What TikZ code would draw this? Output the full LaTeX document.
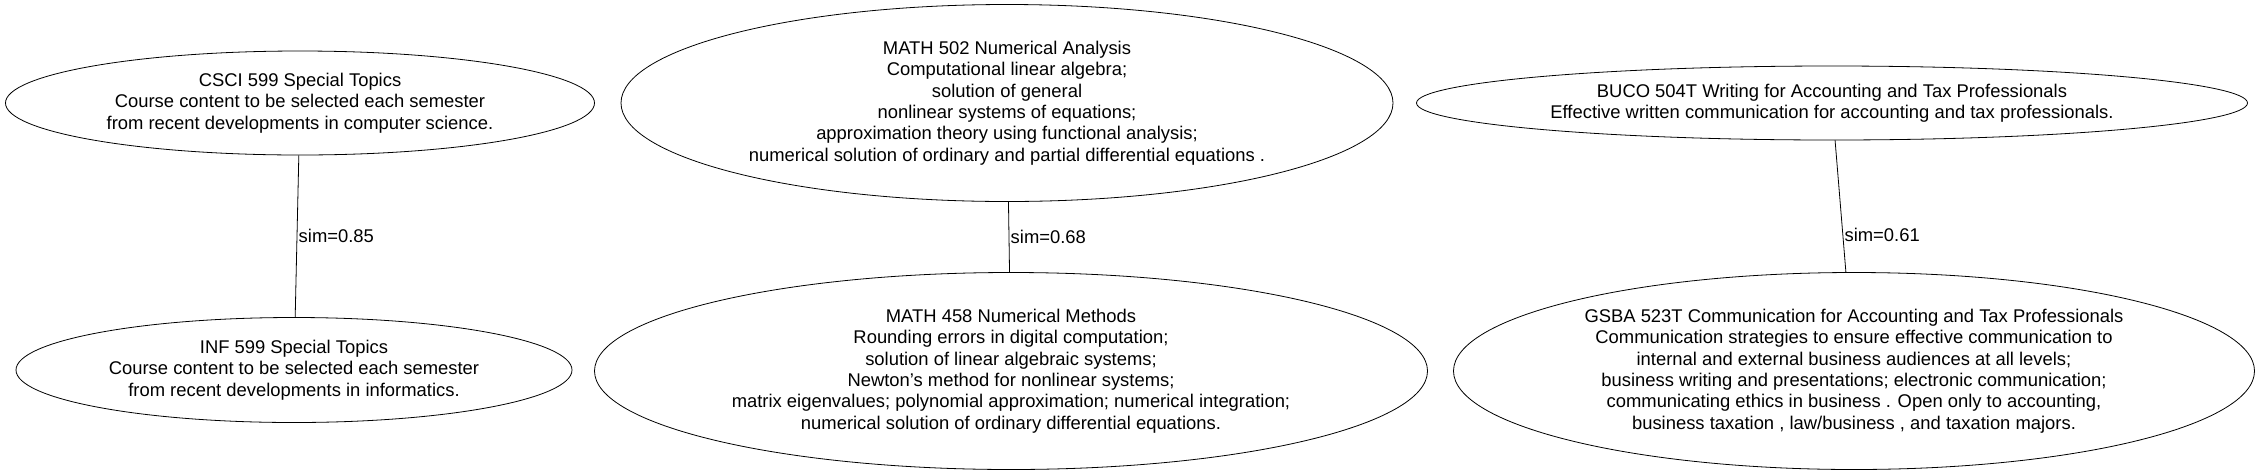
\documentclass[tikz,border=0pt]{standalone}
\usepackage{fontspec}
\setmainfont{Liberation Sans}
\usepackage{tikz}
\usetikzlibrary{shapes.geometric}

\begin{document}
\begin{tikzpicture}[x=0.75pt, y=-0.75pt,
    course/.style={draw, ellipse, line width=0.6pt, inner sep=0pt, align=center, font=\fontsize{13.8}{16}\selectfont},
    simlabel/.style={anchor=west, inner sep=1pt, font=\fontsize{13.8}{16}\selectfont}]
    \useasboundingbox (0,0) rectangle (2260,472);

    % Draw the course nodes of the first pair
    \node[course, minimum width=441.75pt, minimum height=78pt] (csci) at (300,103)
        {CSCI 599 Special Topics\\Course content to be selected each semester\\from recent developments in computer science.};
    \node[course, minimum width=417pt, minimum height=78.75pt] (inf) at (294,370)
        {INF 599 Special Topics\\Course content to be selected each semester\\from recent developments in informatics.};

    % Draw the course nodes of the second pair
    \node[course, minimum width=579pt, minimum height=147.75pt] (math502) at (1007,103)
        {MATH 502 Numerical Analysis\\Computational linear algebra;\\solution of general\\nonlinear systems of equations;\\approximation theory using functional analysis;\\numerical solution of ordinary and partial differential equations .};
    \node[course, minimum width=624.75pt, minimum height=147.75pt] (math458) at (1011,371)
        {MATH 458 Numerical Methods\\Rounding errors in digital computation;\\solution of linear algebraic systems;\\Newton’s method for nonlinear systems;\\matrix eigenvalues; polynomial approximation; numerical integration;\\numerical solution of ordinary differential equations.};

    % Draw the course nodes of the third pair
    \node[course, minimum width=623.25pt, minimum height=55.5pt] (buco) at (1832,103)
        {BUCO 504T Writing for Accounting and Tax Professionals\\Effective written communication for accounting and tax professionals.};
    \node[course, minimum width=600.75pt, minimum height=147.75pt] (gsba) at (1854,371)
        {GSBA 523T Communication for Accounting and Tax Professionals\\Communication strategies to ensure effective communication to\\internal and external business audiences at all levels;\\business writing and presentations; electronic communication;\\communicating ethics in business . Open only to accounting,\\business taxation , law/business , and taxation majors.};

    % Draw the similarity edges
    \draw[line width=0.6pt] (csci) -- node[simlabel, pos=0.5] {sim=0.85} (inf);
    \draw[line width=0.6pt] (math502) -- node[simlabel, pos=0.5] {sim=0.68} (math458);
    \draw[line width=0.6pt] (buco) -- node[simlabel, pos=0.72] {sim=0.61} (gsba);
\end{tikzpicture}
\end{document}
